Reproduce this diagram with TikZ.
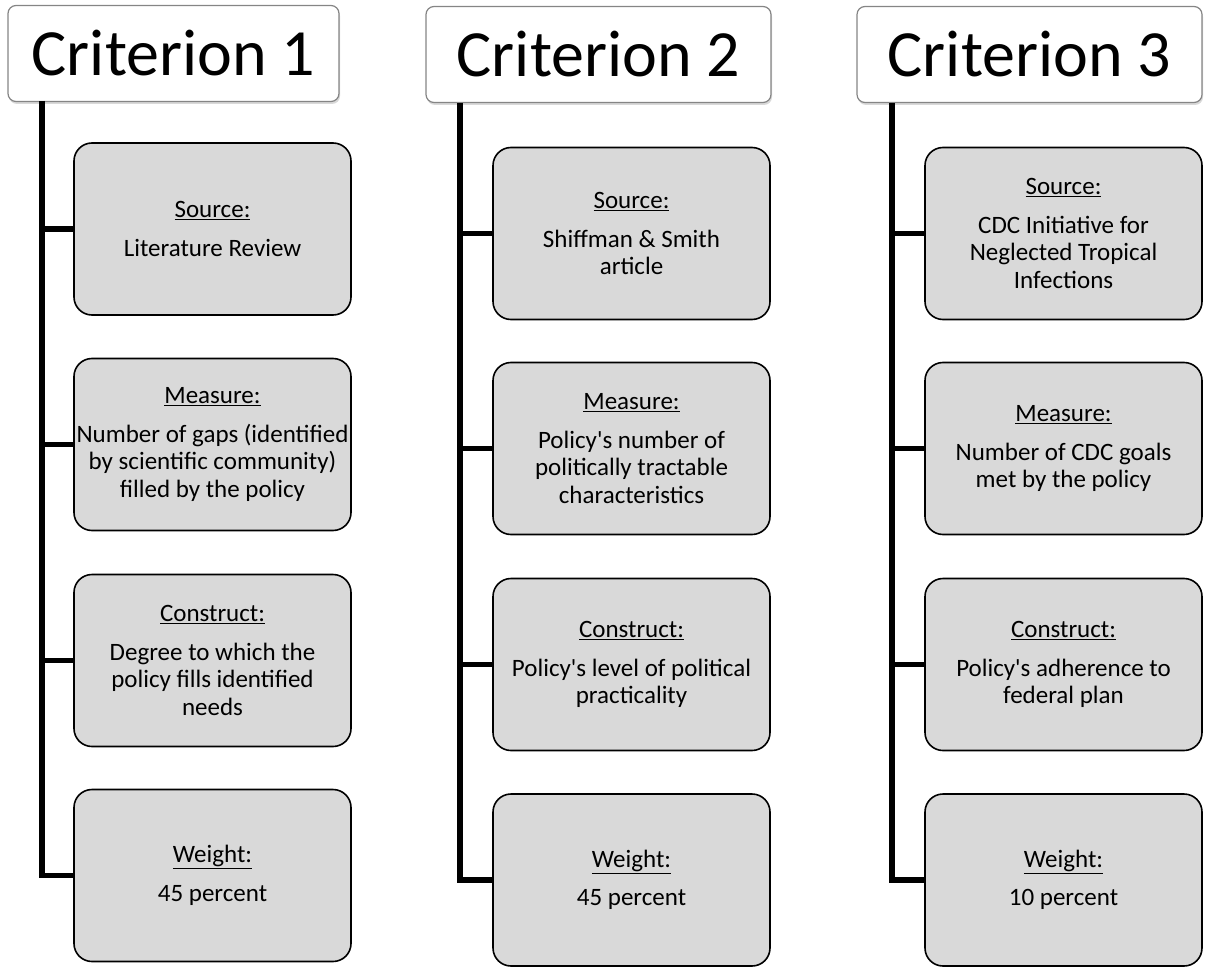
\documentclass[tikz,border=0pt]{standalone}
\usepackage{fontspec}
\setmainfont{Carlito}
\usepackage{tikz}
\usetikzlibrary{positioning, shadows}
\definecolor{boxgray}{HTML}{D9D9D9}
\definecolor{framegray}{HTML}{858585}

\begin{document}
\begin{tikzpicture}[x=1pt, y=-1pt,
    header/.style={draw=framegray, line width=1.2pt, fill=white, rounded corners=8pt,
        minimum height=96pt, inner sep=0pt, font=\fontsize{66}{70}\selectfont,
        drop shadow={shadow xshift=1pt, shadow yshift=-2.5pt, opacity=0.3}},
    item/.style={draw=black, line width=1.6pt, fill=boxgray, rounded corners=18pt,
        minimum width=277pt, minimum height=172pt, inner sep=0pt, align=center,
        font=\fontsize{25}{27.5}\selectfont},
    stem/.style={line width=5.5pt}]
    \useasboundingbox (0,0) rectangle (1206,968);

    % Criterion 1
    \node[header, minimum width=331pt] (c1) at (173.5,53.5) {Criterion 1};
    \node[item] (c1a) at (212.5,229) {\underline{Source:}\\[11pt]Literature Review};
    \node[item] (c1b) at (212.5,444.5) {\underline{Measure:}\\[11pt]Number of gaps (identified\\by scientific community)\\filled by the policy};
    \node[item] (c1c) at (212.5,660.5) {\underline{Construct:}\\[11pt]Degree to which the\\policy fills identified\\needs};
    \node[item] (c1d) at (212.5,875.5) {\underline{Weight:}\\[11pt]45 percent};
    \coordinate (c1t) at (42,101);
    \draw[stem] (c1t) |- (c1d.west);
    \draw[stem] (c1a.west) -- (c1a.west -| c1t);
    \draw[stem] (c1b.west) -- (c1b.west -| c1t);
    \draw[stem] (c1c.west) -- (c1c.west -| c1t);

    % Criterion 2
    \node[header, minimum width=345pt] (c2) at (598.5,54.5) {Criterion 2};
    \node[item] (c2a) at (631.5,233.5) {\underline{Source:}\\[11pt]Shiffman \& Smith\\article};
    \node[item] (c2b) at (631.5,448.5) {\underline{Measure:}\\[11pt]Policy\textquotesingle s number of\\politically tractable\\characteristics};
    \node[item] (c2c) at (631.5,664.5) {\underline{Construct:}\\[11pt]Policy\textquotesingle s level of political\\practicality};
    \node[item] (c2d) at (631.5,880) {\underline{Weight:}\\[11pt]45 percent};
    \coordinate (c2t) at (460,103);
    \draw[stem] (c2t) |- (c2d.west);
    \draw[stem] (c2a.west) -- (c2a.west -| c2t);
    \draw[stem] (c2b.west) -- (c2b.west -| c2t);
    \draw[stem] (c2c.west) -- (c2c.west -| c2t);

    % Criterion 3
    \node[header, minimum width=345pt] (c3) at (1029.5,54.5) {Criterion 3};
    \node[item] (c3a) at (1063.5,233.5) {\underline{Source:}\\[11pt]CDC Initiative for\\Neglected Tropical\\Infections};
    \node[item] (c3b) at (1063.5,448.5) {\underline{Measure:}\\[11pt]Number of CDC goals\\met by the policy};
    \node[item] (c3c) at (1063.5,664.5) {\underline{Construct:}\\[11pt]Policy\textquotesingle s adherence to\\federal plan};
    \node[item] (c3d) at (1063.5,880) {\underline{Weight:}\\[11pt]10 percent};
    \coordinate (c3t) at (892,103);
    \draw[stem] (c3t) |- (c3d.west);
    \draw[stem] (c3a.west) -- (c3a.west -| c3t);
    \draw[stem] (c3b.west) -- (c3b.west -| c3t);
    \draw[stem] (c3c.west) -- (c3c.west -| c3t);
\end{tikzpicture}
\end{document}
